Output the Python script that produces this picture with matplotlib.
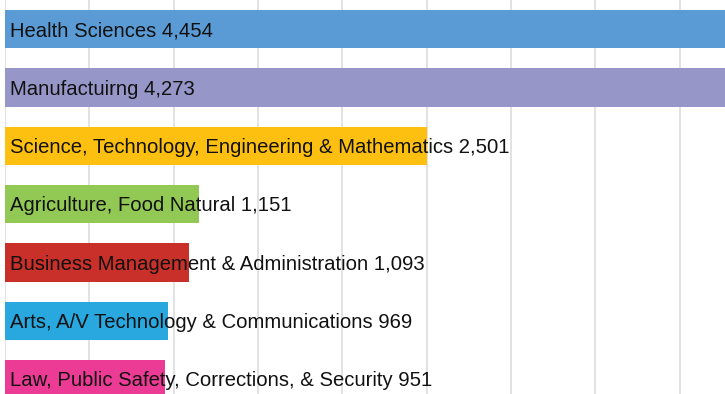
import numpy as np
import matplotlib.pyplot as plt

plt.rcParams['font.family'] = ['Liberation Sans', 'DejaVu Sans']

categories = [
    "Health Sciences",
    "Manufactuirng",
    "Science, Technology, Engineering & Mathematics",
    "Agriculture, Food Natural",
    "Business Management & Administration",
    "Arts, A/V Technology & Communications",
    "Law, Public Safety, Corrections, & Security",
]
values = [4454, 4273, 2501, 1151, 1093, 969, 951]
colors = ["#5b9bd5", "#9696c9", "#fdc010", "#92c954", "#c9302a", "#29a8e0", "#ec3b94"]

fig = plt.figure(figsize=(7.25, 3.94), dpi=100)
ax = fig.add_axes([5 / 725, 0, 720 / 725, 1])

y = np.arange(len(categories))
ax.barh(y, values, height=0.66, color=colors, zorder=2)

for i, (cat, v) in enumerate(zip(categories, values)):
    ax.text(30, i + 0.03, f"{cat} {v:,}", va="center", ha="left",
            fontsize=14.6, color="#111111", zorder=3)

ax.set_xlim(0, 4268)
ax.set_ylim(6.253, -0.501)
ax.set_xticks(np.arange(0, 4268, 500))
ax.grid(axis="x", color="#dddddd", linewidth=1.2, zorder=0)
ax.tick_params(left=False, bottom=False, labelleft=False, labelbottom=False)
for s in ax.spines.values():
    s.set_visible(False)

fig.savefig("out.png", dpi=100)
